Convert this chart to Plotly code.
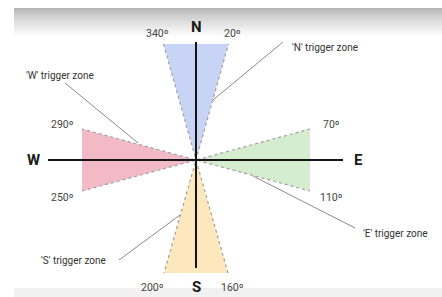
import plotly.graph_objects as go

# ---- data (units = pixels relative to compass centre, y up) ----
zones = ["N", "E", "S", "W"]
zone_colors = ["#c8d4f6", "#d6ecd0", "#fde7bd", "#f2bac6"]
# outer corner points of each trigger wedge (two per wedge)
zone_x1 = [-32.5, 114, 32, -114]
zone_y1 = [116, 31, -113, -31]
zone_x2 = [32.5, 114, -32, -114]
zone_y2 = [116, -31, -113, 31]

# compass axes
axis_h_x = [-148, 147]
axis_v_y = [-108, 118]

cardinal_labels = ["N", "E", "S", "W"]
cardinal_x = [0, 162, 0, -163]
cardinal_y = [133, 0, -127, 0]

degree_labels = ["340º", "20º", "70º", "110º", "160º", "200º", "250º", "290º"]
degree_x = [-39, 36, 135, 135, 36, -44, -134, -134]
degree_y = [127, 127, 36, -37, -127, -127, -37, 36]

callout_labels = ["'N' trigger zone", "'E' trigger zone", "'S' trigger zone", "'W' trigger zone"]
callout_tx = [129, 199, -123, -136]
callout_ty = [113, -73, -100, 85]
callout_x0 = [87, 159, -77, -131]
callout_y0 = [118, -68, -100, 77]
callout_x1 = [17, 57, -16, -58]
callout_y1 = [60, -16, -55, 17]

FONT = "Roboto, Arial, sans-serif"

fig = go.Figure()

# wedges (fill)
for i, z in enumerate(zones):
    fig.add_trace(go.Scatter(
        x=[0, zone_x1[i], zone_x2[i], 0], y=[0, zone_y1[i], zone_y2[i], 0],
        mode="lines", fill="toself", fillcolor=zone_colors[i],
        line=dict(width=0), hoverinfo="skip", showlegend=False))
# dotted edges of wedges
for i, z in enumerate(zones):
    fig.add_trace(go.Scatter(
        x=[zone_x1[i], 0, zone_x2[i]], y=[zone_y1[i], 0, zone_y2[i]],
        mode="lines", line=dict(color="#a0a0a0", width=1.2, dash="dot"),
        hoverinfo="skip", showlegend=False))

# callout leader lines
for i in range(len(callout_labels)):
    fig.add_trace(go.Scatter(
        x=[callout_x0[i], callout_x1[i]], y=[callout_y0[i], callout_y1[i]],
        mode="lines", line=dict(color="#8a8a8a", width=1),
        hoverinfo="skip", showlegend=False))

# compass axes
fig.add_trace(go.Scatter(x=axis_h_x, y=[0, 0], mode="lines",
                         line=dict(color="#151515", width=2), showlegend=False, hoverinfo="skip"))
fig.add_trace(go.Scatter(x=[0, 0], y=axis_v_y, mode="lines",
                         line=dict(color="#151515", width=2), showlegend=False, hoverinfo="skip"))

annotations = []
for t, x, y in zip(cardinal_labels, cardinal_x, cardinal_y):
    annotations.append(dict(x=x, y=y, text=f"<b>{t}</b>", showarrow=False,
                            font=dict(family=FONT, size=15, color="#1a1a1a")))
for t, x, y in zip(degree_labels, degree_x, degree_y):
    annotations.append(dict(x=x, y=y, text=t, showarrow=False,
                            font=dict(family=FONT, size=10.5, color="#444444")))
for t, x, y in zip(callout_labels, callout_tx, callout_ty):
    annotations.append(dict(x=x, y=y, text=t, showarrow=False,
                            font=dict(family=FONT, size=10, color="#333333")))

# decorative screenshot border: top gradient band and faint bottom band
shapes = []
H, W = 297.0, 442.0
top0, top1 = 8, 36
for r in range(top0, top1):
    f = (r - top0) / (top1 - top0)
    v = int(182 + (255 - 182) * f ** 0.8)
    shapes.append(dict(type="rect", xref="paper", yref="paper",
                       x0=14 / W, x1=1, y0=1 - (r + 1) / H, y1=1 - r / H,
                       fillcolor=f"rgb({v},{v},{v})", line=dict(width=0), layer="below"))
shapes.append(dict(type="rect", xref="paper", yref="paper",
                   x0=14 / W, x1=1, y0=0, y1=(297 - 288) / H,
                   fillcolor="#f1f1f1", line=dict(width=0), layer="below"))

fig.update_layout(
    width=442, height=297,
    margin=dict(l=0, r=0, t=0, b=0),
    paper_bgcolor="white", plot_bgcolor="rgba(0,0,0,0)",
    xaxis=dict(range=[-196, 246], visible=False, fixedrange=True),
    yaxis=dict(range=[-137, 160], visible=False, fixedrange=True),
    annotations=annotations, shapes=shapes, showlegend=False,
    hovermode=False,
)

fig.write_html("out.html",
               config={"displayModeBar": False, "staticPlot": True},
               post_script="document.body.style.margin='0';document.body.style.overflow='hidden';")
